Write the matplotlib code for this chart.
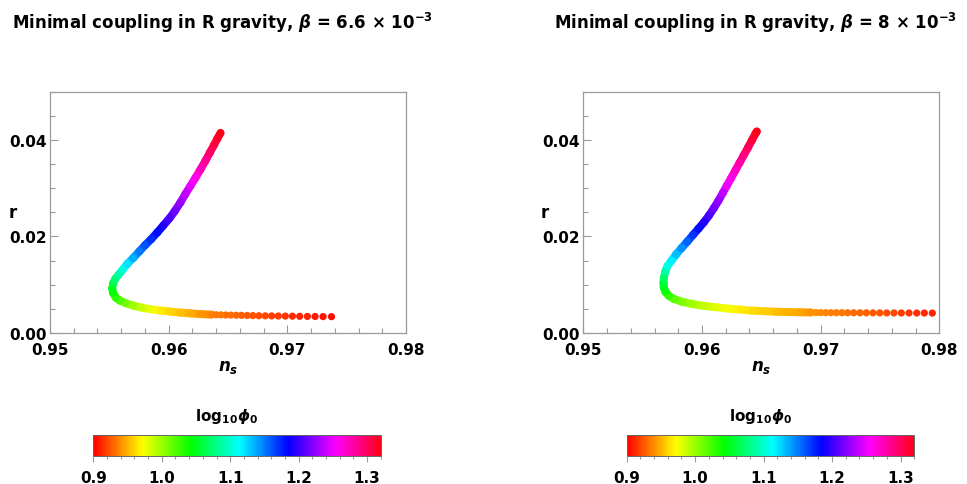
import numpy as np
import matplotlib
matplotlib.use("Agg")
import matplotlib as mpl
import matplotlib.pyplot as plt
from matplotlib.collections import LineCollection
from matplotlib.ticker import MultipleLocator, FixedLocator

plt.rcParams['font.family'] = ['DejaVu Sans']
plt.rcParams['font.weight'] = 'bold'
plt.rcParams['mathtext.fontset'] = 'custom'
plt.rcParams['mathtext.rm'] = 'DejaVu Sans:bold'
plt.rcParams['mathtext.it'] = 'DejaVu Sans:italic:bold'
plt.rcParams['mathtext.bf'] = 'DejaVu Sans:bold'

# ---------------- data ----------------
beta_labels = ['6.6', '8']

# Panel 1 (beta = 6.6e-3): dense part of the curve (log10 phi0, n_s, r)
p1_curve_logphi = [0.937, 0.942, 0.948, 0.954, 0.960, 0.967, 0.976, 0.987, 0.998, 1.010,
                   1.020, 1.030, 1.040, 1.050, 1.062, 1.075, 1.090, 1.105, 1.120, 1.135,
                   1.150, 1.162, 1.172, 1.182, 1.193, 1.205, 1.215, 1.226, 1.237, 1.248,
                   1.260, 1.272, 1.284, 1.296, 1.306, 1.314, 1.320]
p1_curve_ns = [0.96361, 0.96268, 0.96183, 0.96099, 0.96014, 0.95930, 0.95845, 0.95769, 0.95701, 0.95634,
               0.95587, 0.95554, 0.95532, 0.95524, 0.95532, 0.95549, 0.95579, 0.95613, 0.95651, 0.95701,
               0.95752, 0.95803, 0.95854, 0.95904, 0.95955, 0.96006, 0.96052, 0.96099, 0.96141, 0.96183,
               0.96225, 0.96268, 0.96310, 0.96348, 0.96382, 0.96411, 0.96437]
p1_curve_r = [0.00381, 0.00392, 0.00406, 0.00423, 0.00444, 0.00466, 0.00493, 0.00528, 0.00568, 0.00622,
              0.00674, 0.00736, 0.00829, 0.00922, 0.01026, 0.01119, 0.01212, 0.01316, 0.01430, 0.01554,
              0.01689, 0.01824, 0.01948, 0.02083, 0.02228, 0.02373, 0.02528, 0.02705, 0.02881, 0.03047,
              0.03212, 0.03389, 0.03571, 0.03741, 0.03896, 0.04031, 0.04145]
# Panel 1: separated points of the tail
p1_tail_logphi = [0.904, 0.906, 0.908, 0.910, 0.911, 0.913, 0.915, 0.917, 0.918, 0.920,
                  0.922, 0.923, 0.925, 0.927, 0.928, 0.930, 0.931, 0.933, 0.934]
p1_tail_ns = [0.97372, 0.97301, 0.97234, 0.97169, 0.97104, 0.97043, 0.96983, 0.96924, 0.96868, 0.96814,
              0.96760, 0.96710, 0.96662, 0.96614, 0.96569, 0.96524, 0.96481, 0.96439, 0.96400]
p1_tail_r = [0.00338, 0.00340, 0.00342, 0.00344, 0.00346, 0.00348, 0.00350, 0.00352, 0.00354, 0.00356,
             0.00358, 0.00361, 0.00363, 0.00366, 0.00368, 0.00371, 0.00373, 0.00376, 0.00378]

# Panel 2 (beta = 8e-3)
p2_curve_logphi = [0.942, 0.946, 0.950, 0.954, 0.958, 0.962, 0.967, 0.973, 0.980, 0.988,
                   0.997, 1.007, 1.018, 1.028, 1.038, 1.048, 1.058, 1.070, 1.090, 1.106,
                   1.118, 1.130, 1.143, 1.157, 1.170, 1.182, 1.193, 1.205, 1.215, 1.225,
                   1.237, 1.250, 1.260, 1.270, 1.280, 1.290, 1.300, 1.310, 1.317, 1.320]
p2_curve_ns = [0.96919, 0.96826, 0.96725, 0.96624, 0.96523, 0.96422, 0.96321, 0.96219, 0.96118, 0.96017,
               0.95916, 0.95832, 0.95764, 0.95722, 0.95693, 0.95678, 0.95676, 0.95678, 0.95692, 0.95710,
               0.95744, 0.95781, 0.95829, 0.95877, 0.95924, 0.95972, 0.96018, 0.96059, 0.96101, 0.96140,
               0.96176, 0.96210, 0.96246, 0.96281, 0.96316, 0.96351, 0.96386, 0.96420, 0.96452, 0.96462]
p2_curve_r = [0.00425, 0.00429, 0.00433, 0.00441, 0.00452, 0.00464, 0.00485, 0.00506, 0.00533, 0.00562,
              0.00601, 0.00647, 0.00705, 0.00767, 0.00850, 0.00943, 0.01036, 0.01140, 0.01285, 0.01389,
              0.01503, 0.01627, 0.01762, 0.01896, 0.02031, 0.02166, 0.02300, 0.02435, 0.02591, 0.02746,
              0.02902, 0.03057, 0.03212, 0.03368, 0.03523, 0.03679, 0.03834, 0.03990, 0.04135, 0.04176]
p2_tail_logphi = [0.910, 0.912, 0.914, 0.916, 0.918, 0.920, 0.922, 0.924, 0.925, 0.927,
                  0.929, 0.930, 0.932, 0.933, 0.935, 0.936, 0.937, 0.939, 0.940]
p2_tail_ns = [0.97941, 0.97874, 0.97810, 0.97745, 0.97680, 0.97618, 0.97557, 0.97498, 0.97441, 0.97385,
              0.97332, 0.97279, 0.97228, 0.97180, 0.97132, 0.97087, 0.97043, 0.97000, 0.96961]
p2_tail_r = [0.00413, 0.00414, 0.00414, 0.00415, 0.00415, 0.00416, 0.00416, 0.00417, 0.00417, 0.00418,
             0.00418, 0.00419, 0.00419, 0.00420, 0.00420, 0.00421, 0.00421, 0.00422, 0.00423]

cbar_ticks = [0.9, 1.0, 1.1, 1.2, 1.3]
cbar_ticklabels = ['0.9', '1.0', '1.1', '1.2', '1.3']
x_ticks = [0.95, 0.96, 0.97, 0.98]
x_ticklabels = ['0.95', '0.96', '0.97', '0.98']
y_ticks = [0.00, 0.02, 0.04]
y_ticklabels = ['0.00', '0.02', '0.04']

panels = [
    (beta_labels[0], p1_curve_logphi, p1_curve_ns, p1_curve_r, p1_tail_logphi, p1_tail_ns, p1_tail_r),
    (beta_labels[1], p2_curve_logphi, p2_curve_ns, p2_curve_r, p2_tail_logphi, p2_tail_ns, p2_tail_r),
]

# ---------------- figure ----------------
W, H = 967, 485
fig = plt.figure(figsize=(W / 100, H / 100), dpi=100)
cmap = plt.get_cmap('hsv')
norm = mpl.colors.Normalize(vmin=0.9, vmax=1.32)
gray = '#9a9a9a'

ax_left_px = [50, 583.3]
ax_w_px = 356
ax_top_px, ax_bot_px = 92.7, 334
cb_left_px = [93.3, 626.7]
cb_w_px = 287.5
cb_top_px, cb_bot_px = 436, 456.7
title_x_px = [12, 554]
ylabel_x_px = [12.5, 545]

for i, (bl, clog, cns, cr, tlog, tns, tr) in enumerate(panels):
    ax = fig.add_axes([ax_left_px[i] / W, 1 - ax_bot_px / H, ax_w_px / W,
                       (ax_bot_px - ax_top_px) / H])
    ax.set_xlim(0.95, 0.98)
    ax.set_ylim(0.0, 0.05)

    pts = np.column_stack([cns, cr])
    segs = np.stack([pts[:-1], pts[1:]], axis=1)
    seg_vals = 0.5 * (np.array(clog[:-1]) + np.array(clog[1:]))
    lc = LineCollection(segs, cmap=cmap, norm=norm, linewidths=5.7,
                        capstyle='round', joinstyle='round')
    lc.set_array(seg_vals)
    ax.add_collection(lc)
    ax.scatter(cns, cr, c=clog, cmap=cmap, norm=norm, s=30, linewidths=0, zorder=3)
    ax.scatter(tns, tr, c=tlog, cmap=cmap, norm=norm, s=27, linewidths=0, zorder=3)

    ax.set_xticks(x_ticks)
    ax.set_xticklabels(x_ticklabels)
    ax.set_yticks(y_ticks)
    ax.set_yticklabels(y_ticklabels)
    ax.xaxis.set_minor_locator(MultipleLocator(0.002))
    ax.yaxis.set_minor_locator(MultipleLocator(0.005))
    ax.tick_params(which='both', direction='in', color=gray, top=False, right=False,
                   labelsize=11, width=0.8)
    ax.tick_params(which='major', length=6)
    ax.tick_params(which='minor', length=3.5)
    ax.tick_params(axis='x', which='major', pad=6.5)
    ax.tick_params(axis='y', which='major', pad=2.5)
    for lab in ax.get_xticklabels() + ax.get_yticklabels():
        lab.set_fontweight('bold')
    for sp in ax.spines.values():
        sp.set_color(gray)
        sp.set_linewidth(0.9)

    fig.text((ax_left_px[i] + ax_w_px / 2) / W, 1 - 367 / H, r'$n_s$', ha='center',
             va='center', fontsize=12)
    fig.text(ylabel_x_px[i] / W, 1 - 213 / H, 'r', ha='center', va='center',
             fontsize=12, fontweight='bold')
    fig.text(title_x_px[i] / W, 1 - 23 / H,
             'Minimal coupling in R gravity, $\\beta$ = ' + bl + ' × 10$^{-3}$',
             ha='left', va='center', fontsize=12, fontweight='bold')

    cax = fig.add_axes([cb_left_px[i] / W, 1 - cb_bot_px / H, cb_w_px / W,
                        (cb_bot_px - cb_top_px) / H])
    sm = mpl.cm.ScalarMappable(norm=norm, cmap=cmap)
    cb = fig.colorbar(sm, cax=cax, orientation='horizontal')
    cb.set_ticks(cbar_ticks)
    cb.set_ticklabels(cbar_ticklabels)
    cax.xaxis.set_minor_locator(FixedLocator([0.9 + 0.02 * k for k in range(22)]))
    cax.tick_params(which='both', direction='out', color=gray, labelsize=11, width=0.8)
    cax.tick_params(which='major', length=4, pad=6.5)
    cax.tick_params(which='minor', length=2.5)
    for lab in cax.get_xticklabels():
        lab.set_fontweight('bold')
    cb.outline.set_edgecolor('#666666')
    cb.outline.set_linewidth(0.7)
    fig.text((cb_left_px[i] + cb_w_px / 2 - 10) / W, 1 - 416 / H,
             r'log$_{10}\phi_0$', ha='center', va='center', fontsize=11,
             fontweight='bold')

fig.savefig('out.png', dpi=100)
